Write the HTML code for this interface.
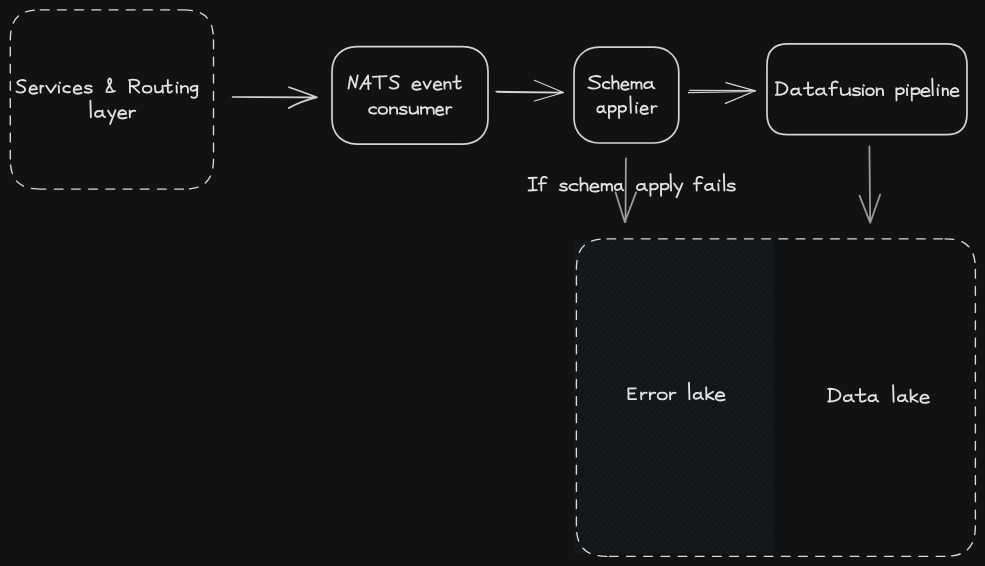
<!DOCTYPE html>
<html>
<head>
<meta charset="utf-8">
<style>
html,body{margin:0;padding:0;background:#121212;width:985px;height:566px;overflow:hidden}
svg{display:block}
.t{fill:none;stroke:#e2e2e2;stroke-width:1.85;stroke-linecap:round;stroke-linejoin:round}
.s{fill:none;stroke:#d3d3d3;stroke-width:1.7;stroke-linecap:round;stroke-linejoin:round}
.s2{fill:none;stroke:#d6d6d6;stroke-width:1.2;stroke-linecap:round;stroke-linejoin:round}
.g{fill:none;stroke:#9a9a9a;stroke-width:1.8;stroke-linecap:round;stroke-linejoin:round}
.d{fill:none;stroke:#dadada;stroke-width:1.35;stroke-dasharray:8.8 8.4;stroke-linecap:round}
</style>
</head>
<body>
<svg width="985" height="566" viewBox="0 0 985 566">
<defs>
<pattern id="hach" patternUnits="userSpaceOnUse" width="4.4" height="10" patternTransform="rotate(40)">
<rect width="4.4" height="10" fill="#141516"/>
<rect width="1.3" height="10" fill="#1a1b1d"/>
</pattern>
</defs>

<rect x="574" y="240" width="199.8" height="313.5" fill="url(#hach)"/>

<path class="d" d="M40.30,9.90 L183.50,9.90 M183.50,9.90 C204.50,9.90 213.50,18.90 213.50,39.90 M213.50,39.90 L213.50,159.10 M213.50,159.10 C213.50,180.10 204.50,189.10 183.50,189.10 M183.50,189.10 L40.30,189.10 M40.30,189.10 C19.30,189.10 10.30,180.10 10.30,159.10 M10.30,159.10 L10.30,39.90 M10.30,39.90 C10.30,18.90 19.30,9.90 40.30,9.90"/>
<path class="s" d="M357.00,46.60 L463.00,46.60 C478.00,46.60 488.00,56.60 488.00,71.60 L488.00,119.10 C488.00,134.10 478.00,144.10 463.00,144.10 L357.00,144.10 C342.00,144.10 332.00,134.10 332.00,119.10 L332.00,71.60 C332.00,56.60 342.00,46.60 357.00,46.60"/>
<path class="s" d="M599.00,47.20 L653.80,47.20 C668.30,47.20 678.80,57.70 678.80,72.20 L678.80,118.00 C678.80,132.50 668.30,143.00 653.80,143.00 L599.00,143.00 C584.50,143.00 574.00,132.50 574.00,118.00 L574.00,72.20 C574.00,57.70 584.50,47.20 599.00,47.20"/>
<path class="s" d="M788.00,43.80 L946.00,43.80 C960.01,43.80 967.00,50.79 967.00,64.80 L967.00,113.70 C967.00,127.71 960.01,134.70 946.00,134.70 L788.00,134.70 C773.99,134.70 767.00,127.71 767.00,113.70 L767.00,64.80 C767.00,50.79 773.99,43.80 788.00,43.80"/>

<path class="s" d="M232.6,97 L316.9,97.3 M289,87.2 Q303,92 316.9,97.3 Q301,101 288.8,108"/>
<path class="s2" d="M496,91.4 L563.5,92.3 M497,92.4 L563,93 M534.3,80.3 L563.5,92.5 L534.3,101"/>
<path class="s2" d="M689.7,90.3 L755,90.5 M688.5,92.7 L755,91.5 M725.9,82.7 L755.5,90.8 L725.5,103.4"/>
<path class="g" d="M869.4,146.4 L870.2,222.7 M859.5,195.6 L870.2,222.7 L880.2,194.5"/>
<path class="g" d="M625.9,158.5 L625.5,222 M615.6,192.4 L624.8,222 L636.1,192.4"/>

<path class="d" d="M606.90,238.80 L944.90,238.80 M944.90,238.80 C966.25,238.80 975.40,247.95 975.40,269.30 M975.40,269.30 L975.40,525.80 M975.40,525.80 C975.40,547.15 966.25,556.30 944.90,556.30 M944.90,556.30 L606.90,556.30 M606.90,556.30 C585.55,556.30 576.40,547.15 576.40,525.80 M576.40,525.80 L576.40,269.30 M576.40,269.30 C576.40,247.95 585.55,238.80 606.90,238.80"/>

<path class="t" d="M25.50 80.80 C23.36 79.60 19.07 79.60 17.53 82.10 C16.50 84.10 19.93 85.10 22.07 86.10 C24.64 87.10 25.76 89.10 24.64 91.10 C22.93 93.10 18.64 92.90 16.50 91.40 M29.64 89.78 L36.84 89.08 C36.84 86.44 34.53 85.38 32.76 85.56 C30.09 86.09 29.02 89.78 29.73 91.90 C30.62 94.01 34.09 94.01 37.20 92.95 M40.49 85.74 L40.59 92.60 M40.59 89.08 C41.08 86.44 42.32 85.38 43.30 86.26 M46.20 85.74 L50.73 92.60 L55.90 85.12 M58.70 85.80 L59.00 92.60 M59.50 82.60 L60.00 83.10 M69.90 86.88 C68.35 85.38 63.63 85.74 63.29 89.08 C63.03 91.90 67.07 93.04 69.90 91.90 M73.86 89.78 L81.24 89.08 C81.24 86.44 78.87 85.38 77.04 85.56 C74.31 86.09 73.22 89.78 73.95 91.90 C74.86 94.01 78.41 94.01 81.60 92.95 M91.54 86.44 C89.78 85.12 85.20 85.30 85.20 87.50 C85.20 89.26 91.80 88.64 91.80 91.02 C91.80 93.04 86.70 93.13 84.50 91.90 M115.00 91.20 C112.55 92.00 108.01 92.20 106.56 91.80 C105.84 91.00 107.65 88.00 109.47 85.40 C111.10 83.00 111.64 80.00 110.37 78.80 C109.28 78.00 108.01 79.40 108.20 81.80 C108.38 84.00 110.74 87.20 112.91 91.40 M129.84 80.10 L130.03 92.60 M129.10 80.10 C132.81 79.10 139.30 79.60 139.11 83.10 C138.84 86.10 133.74 86.60 130.49 85.80 M132.35 86.10 L139.30 92.60 M147.15 85.91 C144.25 85.91 142.80 87.50 142.80 89.26 C142.80 91.37 144.73 92.60 147.15 92.60 C149.57 92.60 151.50 91.37 151.50 89.26 C151.50 87.32 149.95 85.91 147.15 85.91 M155.02 85.74 L155.28 90.40 C155.45 93.30 160.53 93.04 162.22 89.96 M162.48 85.56 L162.90 92.60 M167.83 79.80 L167.83 90.80 C167.83 93.10 170.75 93.10 172.00 91.10 M164.50 85.80 L171.58 85.20 M176.50 85.80 L176.80 92.60 M177.30 82.60 L177.80 83.10 M180.97 85.74 L181.25 92.60 M181.25 88.64 C182.38 85.74 187.53 85.12 187.81 88.20 L188.00 92.60 M197.06 86.88 C195.72 85.12 190.58 86.00 190.58 88.90 C190.58 91.54 195.28 91.28 197.06 88.64 M197.32 85.56 L197.14 95.68 C196.61 98.14 193.06 98.32 191.29 97.00
M90.40 100.80 L90.90 117.30 M102.13 112.02 C100.93 110.08 95.36 110.44 95.09 114.22 C94.90 117.74 100.00 117.48 102.32 114.48 M102.50 110.44 C102.32 113.78 102.78 116.86 105.10 117.12 M108.00 110.44 L111.33 115.98 M115.50 110.26 L110.17 123.99 M118.38 114.48 L126.12 113.78 C126.12 111.14 123.63 110.08 121.72 110.26 C118.86 110.79 117.71 114.48 118.47 116.60 C119.43 118.71 123.16 118.71 126.50 117.65 M129.68 110.44 L129.87 117.30 M129.87 113.78 C130.84 111.14 133.26 110.08 135.20 110.96
M348.50 88.60 L350.52 76.30 L355.40 87.40 L357.70 75.40 M360.10 88.80 L368.01 75.40 L368.47 89.10 M362.43 83.80 L370.80 83.40 M372.90 76.80 L386.60 76.10 M379.50 76.40 L379.80 88.60 M398.80 76.80 C396.63 75.60 392.30 75.60 390.74 78.10 C389.70 80.10 393.17 81.10 395.33 82.10 C397.93 83.10 399.06 85.10 397.93 87.10 C396.20 89.10 391.87 88.90 389.70 87.40 M412.58 85.78 L420.32 85.08 C420.32 82.44 417.83 81.38 415.92 81.56 C413.06 82.09 411.91 85.78 412.67 87.90 C413.63 90.01 417.36 90.01 420.70 88.95 M423.50 81.74 L426.91 88.60 L430.80 81.12 M433.94 85.78 L441.14 85.08 C441.14 82.44 438.83 81.38 437.06 81.56 C434.39 82.09 433.32 85.78 434.03 87.90 C434.92 90.01 438.39 90.01 441.50 88.95 M444.32 81.74 L444.57 88.60 M444.57 84.64 C445.57 81.74 450.18 81.12 450.43 84.20 L450.60 88.60 M456.56 75.80 L456.56 86.80 C456.56 89.10 459.67 89.10 461.00 87.10 M453.00 81.80 L460.56 81.20
M376.20 108.08 C374.54 106.58 369.46 106.94 369.09 110.28 C368.82 113.10 373.15 114.24 376.20 113.10 M382.85 107.11 C380.02 107.11 378.60 108.70 378.60 110.46 C378.60 112.57 380.49 113.80 382.85 113.80 C385.21 113.80 387.10 112.57 387.10 110.46 C387.10 108.52 385.59 107.11 382.85 107.11 M389.98 106.94 L390.27 113.80 M390.27 109.84 C391.43 106.94 396.72 106.32 397.01 109.40 L397.20 113.80 M406.44 107.64 C404.73 106.32 400.28 106.50 400.28 108.70 C400.28 110.46 406.70 109.84 406.70 112.22 C406.70 114.24 401.74 114.33 399.60 113.10 M409.56 106.94 L409.83 111.60 C410.02 114.50 415.53 114.24 417.37 111.16 M417.64 106.76 L418.10 113.80 M421.04 106.94 L421.14 113.80 M421.14 109.40 C422.11 106.94 426.72 106.32 427.15 109.22 L427.25 113.62 M427.25 109.40 C428.22 106.94 433.36 106.32 433.58 109.40 L433.90 113.80 M436.22 110.98 L443.06 110.28 C443.06 107.64 440.87 106.58 439.18 106.76 C436.64 107.29 435.63 110.98 436.31 113.10 C437.15 115.21 440.44 115.21 443.40 114.15 M446.50 106.94 L446.68 113.80 M446.68 110.28 C447.55 107.64 449.75 106.58 451.50 107.46
M600.30 76.80 C597.47 75.60 591.80 75.60 589.76 78.10 C588.40 80.10 592.93 81.10 595.77 82.10 C599.17 83.10 600.64 85.10 599.17 87.10 C596.90 89.10 591.23 88.90 588.40 87.40 M609.40 82.88 C607.85 81.38 603.13 81.74 602.79 85.08 C602.53 87.90 606.57 89.04 609.40 87.90 M612.24 75.80 L612.51 88.60 M612.51 84.10 C613.57 80.80 618.16 80.10 618.42 83.60 L618.60 88.60 M621.43 85.78 L628.36 85.08 C628.36 82.44 626.13 81.38 624.42 81.56 C621.86 82.09 620.83 85.78 621.51 87.90 C622.37 90.01 625.71 90.01 628.70 88.95 M631.52 81.74 L631.60 88.60 M631.60 84.20 C632.36 81.74 635.97 81.12 636.31 84.02 L636.39 88.42 M636.39 84.20 C637.15 81.74 641.18 81.12 641.35 84.20 L641.60 88.60 M651.45 83.32 C650.20 81.38 644.48 81.74 644.19 85.52 C644.00 89.04 649.25 88.78 651.64 85.78 M651.83 81.74 C651.64 85.08 652.11 88.16 654.50 88.42
M603.30 107.52 C602.28 105.58 597.59 105.94 597.36 109.72 C597.20 113.24 601.50 112.98 603.45 109.98 M603.61 105.94 C603.45 109.28 603.85 112.36 605.80 112.62 M608.88 105.94 L609.04 118.08 M609.04 107.96 C610.31 105.32 615.80 105.06 615.80 108.58 C615.80 111.92 611.16 112.36 609.21 110.86 M618.89 105.94 L619.07 118.08 M619.07 107.96 C620.37 105.32 626.00 105.06 626.00 108.58 C626.00 111.92 621.23 112.36 619.24 110.86 M630.35 96.30 L630.85 112.80 M636.10 106.00 L636.40 112.80 M636.90 102.80 L637.40 103.30 M640.73 109.98 L647.66 109.28 C647.66 106.64 645.43 105.58 643.72 105.76 C641.16 106.29 640.13 109.98 640.81 112.10 C641.67 114.21 645.01 114.21 648.00 113.15 M651.63 105.94 L651.81 112.80 M651.81 109.28 C652.72 106.64 654.98 105.58 656.80 106.46
M777.47 82.60 L777.29 94.80 M775.80 82.30 C782.30 81.60 787.60 84.60 787.41 88.60 C787.23 93.10 782.30 95.30 775.80 94.90 M798.30 89.82 C797.09 87.88 791.47 88.24 791.19 92.02 C791.00 95.54 796.15 95.28 798.49 92.28 M798.68 88.24 C798.49 91.58 798.96 94.66 801.30 94.92 M808.06 82.30 L808.06 93.30 C808.06 95.60 811.87 95.60 813.50 93.60 M803.70 88.30 L812.96 87.70 M823.56 89.82 C822.28 87.88 816.39 88.24 816.10 92.02 C815.90 95.54 821.30 95.28 823.75 92.28 M823.95 88.24 C823.75 91.58 824.25 94.66 826.70 94.92 M837.80 82.50 C836.43 80.90 832.03 80.90 831.85 84.60 L832.03 95.10 M829.10 88.30 L836.88 87.70 M840.70 88.24 L841.00 92.90 C841.20 95.80 847.20 95.54 849.20 92.46 M849.50 88.06 L850.00 95.10 M859.92 88.94 C858.04 87.62 853.15 87.80 853.15 90.00 C853.15 91.76 860.20 91.14 860.20 93.52 C860.20 95.54 854.75 95.63 852.40 94.40 M862.70 88.30 L863.00 95.10 M863.50 85.10 L864.00 85.60 M870.00 88.41 C867.47 88.41 866.20 90.00 866.20 91.76 C866.20 93.87 867.89 95.10 870.00 95.10 C872.11 95.10 873.80 93.87 873.80 91.76 C873.80 89.82 872.45 88.41 870.00 88.41 M876.63 88.24 L876.89 95.10 M876.89 91.14 C877.93 88.24 882.67 87.62 882.93 90.70 L883.10 95.10 M896.34 88.24 L896.52 100.38 M896.52 90.26 C897.91 87.62 903.90 87.36 903.90 90.88 C903.90 94.22 898.83 94.66 896.71 93.16 M906.90 88.30 L907.20 95.10 M907.70 85.10 L908.20 85.60 M911.67 88.24 L911.87 100.38 M911.87 90.26 C913.32 87.62 919.60 87.36 919.60 90.88 C919.60 94.22 914.28 94.66 912.06 93.16 M921.49 92.28 L929.41 91.58 C929.41 88.94 926.87 87.88 924.91 88.06 C921.98 88.59 920.80 92.28 921.59 94.40 C922.56 96.51 926.38 96.51 929.80 95.45 M932.25 78.60 L932.75 95.10 M937.55 88.30 L937.85 95.10 M938.35 85.10 L938.85 85.60 M942.66 88.24 L942.87 95.10 M942.87 91.14 C943.73 88.24 947.64 87.62 947.86 90.70 L948.00 95.10 M950.86 92.28 L958.33 91.58 C958.33 88.94 955.93 87.88 954.09 88.06 C951.32 88.59 950.22 92.28 950.95 94.40 C951.88 96.51 955.47 96.51 958.70 95.45
M528.60 178.00 L536.80 177.70 M532.70 177.90 L532.79 190.20 M528.60 190.50 L536.80 190.10 M546.80 177.90 C545.51 176.30 541.36 176.30 541.19 180.00 L541.36 190.50 M538.60 183.70 L545.94 183.10 M566.64 184.34 C564.93 183.02 560.48 183.20 560.48 185.40 C560.48 187.16 566.90 186.54 566.90 188.92 C566.90 190.94 561.94 191.03 559.80 189.80 M577.50 184.78 C575.61 183.28 569.83 183.64 569.41 186.98 C569.09 189.80 574.03 190.94 577.50 189.80 M580.40 177.70 L580.70 190.50 M580.70 186.00 C581.90 182.70 587.10 182.00 587.40 185.50 L587.60 190.50 M590.49 187.68 L598.41 186.98 C598.41 184.34 595.87 183.28 593.91 183.46 C590.98 183.99 589.80 187.68 590.59 189.80 C591.56 191.91 595.38 191.91 598.80 190.85 M601.64 183.64 L601.73 190.50 M601.73 186.10 C602.52 183.64 606.30 183.02 606.66 185.92 L606.74 190.32 M606.74 186.10 C607.54 183.64 611.76 183.02 611.94 186.10 L612.20 190.50 M620.84 185.22 C619.80 183.28 615.00 183.64 614.76 187.42 C614.60 190.94 619.00 190.68 621.00 187.68 M621.16 183.64 C621.00 186.98 621.40 190.06 623.40 190.32 M644.17 185.22 C642.95 183.28 637.27 183.64 636.99 187.42 C636.80 190.94 642.00 190.68 644.36 187.68 M644.55 183.64 C644.36 186.98 644.84 190.06 647.20 190.32 M650.33 183.64 L650.51 195.78 M650.51 185.66 C651.88 183.02 657.80 182.76 657.80 186.28 C657.80 189.62 652.79 190.06 650.69 188.56 M660.94 183.64 L661.12 195.78 M661.12 185.66 C662.51 183.02 668.50 182.76 668.50 186.28 C668.50 189.62 663.43 190.06 661.31 188.56 M670.55 174.00 L671.05 190.50 M674.20 183.64 L677.84 189.18 M682.40 183.46 L676.57 197.19 M702.50 177.90 C701.13 176.30 696.73 176.30 696.55 180.00 L696.73 190.50 M693.80 183.70 L701.58 183.10 M711.92 185.22 C710.75 183.28 705.35 183.64 705.08 187.42 C704.90 190.94 709.85 190.68 712.10 187.68 M712.28 183.64 C712.10 186.98 712.55 190.06 714.80 190.32 M718.30 183.70 L718.60 190.50 M719.10 180.50 L719.60 181.00 M723.85 174.00 L724.35 190.50 M734.62 184.34 C732.77 183.02 727.94 183.20 727.94 185.40 C727.94 187.16 734.90 186.54 734.90 188.92 C734.90 190.94 729.52 191.03 727.20 189.80
M635.75 388.30 L628.32 388.50 L628.51 399.10 L636.20 399.10 M628.69 393.50 L634.39 393.30 M641.08 392.44 L641.27 399.30 M641.27 395.78 C642.24 393.14 644.66 392.08 646.60 392.96 M649.78 392.44 L649.97 399.30 M649.97 395.78 C650.94 393.14 653.36 392.08 655.30 392.96 M662.25 392.61 C659.22 392.61 657.70 394.20 657.70 395.96 C657.70 398.07 659.72 399.30 662.25 399.30 C664.78 399.30 666.80 398.07 666.80 395.96 C666.80 394.02 665.18 392.61 662.25 392.61 M669.98 392.44 L670.17 399.30 M670.17 395.78 C671.14 393.14 673.56 392.08 675.50 392.96 M688.95 382.80 L689.45 399.30 M700.45 394.02 C699.29 392.08 693.95 392.44 693.68 396.22 C693.50 399.74 698.40 399.48 700.63 396.48 M700.81 392.44 C700.63 395.78 701.07 398.86 703.30 399.12 M706.16 387.30 L706.44 399.30 M713.06 391.80 L706.62 395.80 L713.70 399.30 M716.01 396.48 L724.29 395.78 C724.29 393.14 721.63 392.08 719.59 392.26 C716.52 392.79 715.30 396.48 716.11 398.60 C717.14 400.71 721.12 400.71 724.70 399.65
M829.96 389.20 L829.76 401.40 M828.20 388.90 C835.03 388.20 840.60 391.20 840.40 395.20 C840.21 399.70 835.03 401.90 828.20 401.50 M851.05 396.42 C849.80 394.48 844.08 394.84 843.79 398.62 C843.60 402.14 848.85 401.88 851.24 398.88 M851.43 394.84 C851.24 398.18 851.71 401.26 854.10 401.52 M860.07 388.90 L860.07 399.90 C860.07 402.20 864.15 402.20 865.90 400.20 M855.40 394.90 L865.32 394.30 M875.39 396.42 C874.21 394.48 868.75 394.84 868.48 398.62 C868.30 402.14 873.30 401.88 875.57 398.88 M875.75 394.84 C875.57 398.18 876.03 401.26 878.30 401.52 M893.10 385.20 L893.60 401.70 M904.82 396.42 C903.65 394.48 898.25 394.84 897.98 398.62 C897.80 402.14 902.75 401.88 905.00 398.88 M905.18 394.84 C905.00 398.18 905.45 401.26 907.70 401.52 M910.54 389.70 L910.80 401.70 M917.09 394.20 L910.97 398.20 L917.70 401.70 M920.59 398.88 L928.51 398.18 C928.51 395.54 925.97 394.48 924.01 394.66 C921.08 395.19 919.90 398.88 920.69 401.00 C921.66 403.11 925.48 403.11 928.90 402.05"/>
</svg>
</body>
</html>
